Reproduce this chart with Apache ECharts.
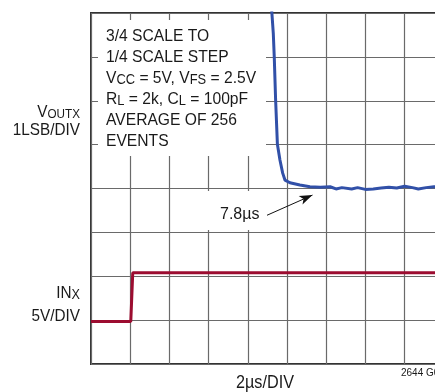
<!DOCTYPE html>
<html>
<head>
<meta charset="utf-8">
<script src="https://cdn.jsdelivr.net/npm/echarts@6/dist/echarts.min.js"></script>
<style>html,body{margin:0;padding:0;background:#fff;}#c{width:435px;height:392px;}</style>
</head>
<body>
<div id="c"></div>
<script>
// time in µs (2 µs/div), vertical position in divisions
var redT = [0, 2.03, 2.13, 20];
var redV = [0.97, 0.97, 2.08, 2.08];
var blueT = [9.18, 9.23, 9.30, 9.35, 9.42, 9.51, 9.64, 9.78, 9.90, 10.15, 10.66, 11.17, 11.7, 12.2, 12.5, 12.8, 13.3, 13.6, 14.0, 14.4, 14.8, 15.2, 15.6, 16.0, 16.4, 16.7, 17.1, 17.5, 18.0, 18.5, 19.0, 19.5, 20.0];
var blueV = [8.3, 7.99, 7.54, 7.00, 6.01, 5.01, 4.65, 4.35, 4.19, 4.13, 4.08, 4.04, 4.03, 4.04, 3.99, 4.02, 3.99, 4.02, 3.98, 3.99, 4.01, 4.03, 4.01, 4.05, 4.02, 3.99, 4.02, 4.04, 4.03, 4.01, 4.03, 4.02, 4.02];
var arrowFrom = [8.98, 3.39];
var arrowTo = [11.30, 3.85];
var boxLines = [
  '{n|3/4 SCALE TO}',
  '{n|1/4 SCALE STEP}',
  '{n|V}{s|CC}{n| = 5V, V}{s|FS}{n| = 2.5V}',
  '{n|R}{s|L}{n| = 2k, C}{s|L}{n| = 100pF}',
  '{n|AVERAGE OF 256}',
  '{n|EVENTS}'
];

function zip(a, b) { return a.map(function (v, i) { return [v, b[i]]; }); }

var FONT = '"Liberation Sans", Arial, sans-serif';
var INK = '#1a1a1a';
var chart = echarts.init(document.getElementById('c'));
chart.setOption({
  animation: false,
  backgroundColor: '#fff',
  grid: { left: 91, top: 13, width: 392, height: 351, show: true, borderColor: '#333', borderWidth: 2, backgroundColor: '#fff', outerBoundsMode: 'none', containLabel: false },
  xAxis: {
    type: 'value', min: 0, max: 20, interval: 2,
    axisLine: { show: false }, axisTick: { show: false }, axisLabel: { show: false },
    splitLine: { show: true, lineStyle: { color: '#6a6a6a', width: 1.2 } }
  },
  yAxis: {
    type: 'value', min: 0, max: 8, interval: 1,
    axisLine: { show: false }, axisTick: { show: false }, axisLabel: { show: false },
    splitLine: { show: true, lineStyle: { color: '#6a6a6a', width: 1.2 } }
  },
  series: [
    {
      type: 'line', data: zip(redT, redV), showSymbol: false, symbol: 'none',
      lineStyle: { color: '#9c0c30', width: 3 }, z: 3
    },
    {
      type: 'line', data: zip(blueT, blueV), showSymbol: false, symbol: 'none',
      lineStyle: { color: '#3150a8', width: 3 }, z: 4,
      markLine: {
        silent: true, symbol: ['none', 'arrow'], symbolSize: [7, 13],
        label: { show: false },
        lineStyle: { color: '#111', width: 1, type: 'solid' },
        data: [[{ coord: arrowFrom }, { coord: arrowTo }]]
      }
    }
  ],
  graphic: [
    { type: 'rect', z: 50, shape: { x: 98, y: 20, width: 168, height: 136 }, style: { fill: '#fff' } },
    { type: 'rect', z: 50, shape: { x: 205, y: 191, width: 61, height: 39 }, style: { fill: '#fff' } },
    {
      type: 'text', z: 51, x: 106, y: 23.4, scaleX: 0.92,
      style: {
        text: boxLines.join('\n'), align: 'left', verticalAlign: 'top',
        rich: {
          n: { fontFamily: FONT, fontSize: 17, fill: INK, lineHeight: 21.1, verticalAlign: 'bottom' },
          s: { fontFamily: FONT, fontSize: 14, fill: INK, lineHeight: 9, verticalAlign: 'bottom' }
        }
      }
    },
    {
      type: 'text', z: 51, x: 80, y: 103.9, scaleX: 0.9,
      style: {
        text: '{n|V}{s|OUTX}\n{n|1LSB/DIV}', align: 'right', verticalAlign: 'top',
        rich: {
          n: { fontFamily: FONT, fontSize: 17, fill: INK, lineHeight: 17.3, verticalAlign: 'bottom' },
          s: { fontFamily: FONT, fontSize: 13, fill: INK, lineHeight: 10.4, verticalAlign: 'bottom' }
        }
      }
    },
    {
      type: 'text', z: 51, x: 80, y: 278.3, scaleX: 0.9,
      style: {
        text: '{n|IN}{s|X}\n{n|5V/DIV}', align: 'right', verticalAlign: 'top',
        rich: {
          n: { fontFamily: FONT, fontSize: 17, fill: INK, lineHeight: 23.4, verticalAlign: 'bottom' },
          s: { fontFamily: FONT, fontSize: 14, fill: INK, lineHeight: 14.7, verticalAlign: 'bottom' }
        }
      }
    },
    {
      type: 'text', z: 51, x: 220, y: 215,
      style: { text: '7.8µs', fontFamily: FONT, fontSize: 16, fill: INK, align: 'left', verticalAlign: 'middle' }
    },
    {
      type: 'text', z: 51, x: 265, y: 383, scaleX: 0.9,
      style: { text: '2µs/DIV', fontFamily: FONT, fontSize: 18, fill: INK, align: 'center', verticalAlign: 'middle' }
    },
    {
      type: 'text', z: 51, x: 401, y: 373.5,
      style: { text: '2644 G07', fontFamily: FONT, fontSize: 10, fill: INK, align: 'left', verticalAlign: 'middle' }
    }
  ]
});
</script>
</body>
</html>
